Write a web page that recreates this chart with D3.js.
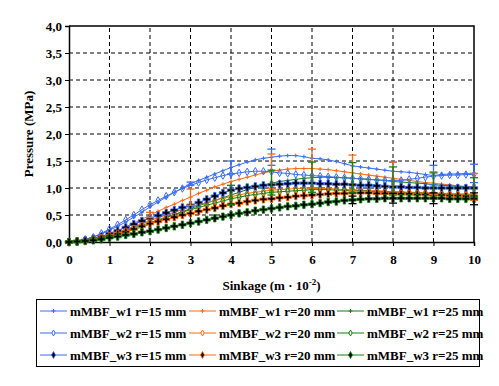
<!DOCTYPE html>
<html>
<head>
<meta charset="utf-8">
<script src="https://cdn.jsdelivr.net/npm/d3@7"></script>
<style>
  body { margin: 0; background: #fff; }
  svg { display: block; font-family: "Liberation Serif", "Times New Roman", serif; font-weight: bold; }
</style>
</head>
<body>
<svg></svg>
<script>
const dimensions = { width: 499, height: 386 };
const margin = { left: 69, right: 25, top: 26, bottom: 144 };

// sinkage steps, 0 .. 10 every 0.2
const sinkage = d3.range(51).map(i => +(i * 0.2).toFixed(1));
const xTicks = [0, 1, 2, 3, 4, 5, 6, 7, 8, 9, 10];
const yTicks = [0, 0.5, 1, 1.5, 2, 2.5, 3, 3.5, 4];

// pressure (MPa)
const w1r15 = [0,0.02,0.05,0.09,0.15,0.22, 0.29,0.37,0.46,0.55,0.65, 0.74,0.83,0.92,1.0,1.08, 1.14,1.2,1.26,1.32,1.38,
  1.43,1.48,1.52,1.55,1.57, 1.59,1.6,1.6,1.58,1.55, 1.54,1.52,1.49,1.45,1.41, 1.39,1.37,1.35,1.33,1.31,
  1.3,1.29,1.27,1.25,1.23, 1.25,1.26,1.26,1.27,1.27];
const w1r20 = [0,0.01,0.03,0.06,0.1,0.15, 0.21,0.28,0.35,0.42,0.5, 0.57,0.64,0.7,0.77,0.83, 0.9,0.96,1.02,1.07,1.12,
  1.16,1.2,1.24,1.28,1.31, 1.33,1.35,1.36,1.36,1.36, 1.35,1.34,1.32,1.3,1.28, 1.26,1.24,1.22,1.2,1.18,
  1.16,1.14,1.12,1.1,1.09, 1.07,1.06,1.04,1.03,1.02];
const w1r25 = [0,0.01,0.02,0.04,0.07,0.1, 0.14,0.18,0.23,0.28,0.33, 0.39,0.45,0.51,0.56,0.62, 0.67,0.72,0.77,0.82,0.87,
  0.92,0.97,1.01,1.05,1.09, 1.12,1.14,1.16,1.18,1.19, 1.2,1.2,1.19,1.19,1.18, 1.17,1.16,1.15,1.14,1.12,
  1.11,1.1,1.09,1.08,1.06, 1.05,1.04,1.03,1.02,1.01];
const w2r15 = [0,0.02,0.05,0.09,0.16,0.24, 0.32,0.41,0.5,0.6,0.69, 0.77,0.85,0.92,0.99,1.05, 1.1,1.15,1.19,1.23,1.26,
  1.28,1.3,1.31,1.31,1.3, 1.28,1.27,1.25,1.24,1.23, 1.22,1.21,1.2,1.19,1.18, 1.17,1.16,1.15,1.14,1.13,
  1.14,1.16,1.18,1.2,1.22, 1.23,1.24,1.24,1.25,1.25];
const w2r20 = [0,0.01,0.02,0.04,0.08,0.12, 0.17,0.22,0.28,0.34,0.4, 0.45,0.5,0.55,0.6,0.65, 0.69,0.73,0.77,0.81,0.84,
  0.87,0.9,0.92,0.94,0.96, 0.97,0.98,0.99,1.0,1.0, 0.99,0.99,0.98,0.97,0.97, 0.96,0.95,0.95,0.94,0.93,
  0.93,0.92,0.92,0.91,0.91, 0.9,0.9,0.89,0.89,0.88];
const w2r25 = [0,0.01,0.02,0.04,0.07,0.11, 0.16,0.21,0.26,0.31,0.36, 0.41,0.46,0.51,0.55,0.6, 0.64,0.68,0.72,0.76,0.8,
  0.83,0.86,0.88,0.9,0.92, 0.93,0.94,0.95,0.96,0.97, 0.97,0.97,0.96,0.96,0.95, 0.95,0.94,0.93,0.93,0.92,
  0.92,0.91,0.91,0.9,0.89, 0.89,0.88,0.88,0.87,0.87];
const w3r15 = [0,0.01,0.03,0.06,0.1,0.16, 0.21,0.27,0.33,0.39,0.44, 0.49,0.54,0.59,0.64,0.68, 0.73,0.79,0.85,0.91,0.96,
  0.99,1.01,1.03,1.05,1.06, 1.07,1.08,1.09,1.09,1.09, 1.08,1.08,1.07,1.07,1.06, 1.05,1.05,1.04,1.03,1.02,
  1.02,1.01,1.01,1.0,1.0, 1.0,1.0,1.0,1.0,1.0];
const w3r20 = [0,0.01,0.02,0.04,0.07,0.11, 0.15,0.19,0.24,0.29,0.34, 0.38,0.42,0.46,0.5,0.53, 0.57,0.6,0.63,0.67,0.7,
  0.72,0.75,0.77,0.79,0.8, 0.82,0.83,0.85,0.86,0.87, 0.88,0.89,0.9,0.9,0.91, 0.91,0.91,0.9,0.9,0.9,
  0.89,0.89,0.88,0.88,0.87, 0.87,0.86,0.86,0.85,0.85];
const w3r25 = [0,0.01,0.02,0.03,0.05,0.08, 0.1,0.13,0.15,0.18,0.2, 0.23,0.26,0.29,0.32,0.35, 0.38,0.41,0.44,0.47,0.5,
  0.53,0.55,0.58,0.6,0.62, 0.64,0.66,0.67,0.69,0.7, 0.72,0.74,0.75,0.77,0.78, 0.79,0.8,0.8,0.81,0.81,
  0.81,0.81,0.81,0.81,0.81, 0.81,0.8,0.8,0.8,0.8];

// error bars at whole sinkage values: [sinkage, centre, half range]
const errW1r15 = [[3,1.08,0.03],[4,1.38,0.12],[5,1.57,0.15],[8,1.31,0.17],[9,1.24,0.18],[10,1.27,0.17]];
const errW1r20 = [[2,0.5,0.05],[3,0.83,0.15],[5,1.31,0.32],[6,1.36,0.36],[7,1.28,0.33],[8,1.18,0.3],[9,1.09,0.21],[10,1.02,0.25]];
const errW1r25 = [[4,0.87,0.18],[5,1.1,0.23],[6,1.2,0.28],[7,1.19,0.28],[8,1.13,0.26],[9,1.07,0.21],[10,1.02,0.17]];
const errW3r25 = [[7,0.78,0.07],[8,0.81,0.09],[9,0.81,0.1],[10,0.8,0.11]];

const blue = '#3a6cf4', orange = '#ff6a10', green = '#118011';

const series = [
  { name: 'mMBF_w1 r=15 mm', values: w1r15, color: blue, marker: 'tick' },
  { name: 'mMBF_w1 r=20 mm', values: w1r20, color: orange, marker: 'tick' },
  { name: 'mMBF_w1 r=25 mm', values: w1r25, color: green, marker: 'tick' },
  { name: 'mMBF_w2 r=15 mm', values: w2r15, color: blue, marker: 'open' },
  { name: 'mMBF_w2 r=20 mm', values: w2r20, color: orange, marker: 'open' },
  { name: 'mMBF_w2 r=25 mm', values: w2r25, color: green, marker: 'open' },
  { name: 'mMBF_w3 r=15 mm', values: w3r15, color: blue, marker: 'solid' },
  { name: 'mMBF_w3 r=20 mm', values: w3r20, color: orange, marker: 'solid' },
  { name: 'mMBF_w3 r=25 mm', values: w3r25, color: green, marker: 'solid' },
];

const errorSets = [
  { data: errW1r15, color: blue },
  { data: errW1r20, color: orange },
  { data: errW1r25, color: green },
  { data: errW3r25, color: '#000' },
];

const svg = d3.select('svg').attr('width', dimensions.width).attr('height', dimensions.height);

const x = d3.scaleLinear().domain([0, 10]).range([margin.left, dimensions.width - margin.right]);
const y = d3.scaleLinear().domain([0, 4]).range([dimensions.height - margin.bottom, margin.top]);

// dashed grid
svg.append('g').selectAll('line').data(xTicks.slice(1, -1)).join('line')
  .attr('x1', d => x(d)).attr('x2', d => x(d)).attr('y1', y(0)).attr('y2', y(4))
  .attr('stroke', '#000').attr('stroke-dasharray', '4,3');
svg.append('g').selectAll('line').data(yTicks.slice(1, -1)).join('line')
  .attr('x1', x(0)).attr('x2', x(10)).attr('y1', d => y(d)).attr('y2', d => y(d))
  .attr('stroke', '#000').attr('stroke-dasharray', '4,3');

// axes
const fmt = d3.format('.1f');
const yAxis = svg.append('g').attr('transform', `translate(${x(0)},0)`)
  .call(d3.axisLeft(y).tickValues(yTicks).tickSize(4).tickPadding(3).tickFormat(d => fmt(d).replace('.', ',')));
const xAxis = svg.append('g').attr('transform', `translate(0,${y(0)})`)
  .call(d3.axisBottom(x).tickValues(xTicks).tickSize(4).tickPadding(9).tickFormat(d3.format('d')));
[xAxis, yAxis].forEach(a => {
  a.selectAll('text').attr('font-family', '"Liberation Serif", serif').attr('font-weight', 'bold')
    .attr('font-size', 13).attr('fill', '#000');
  a.select('.domain').attr('stroke-width', 1.5);
});

// plot frame top/right
svg.append('path')
  .attr('d', `M${x(0)},${y(4)}H${x(10)}V${y(0)}`)
  .attr('fill', 'none').attr('stroke', '#000').attr('stroke-width', 1.5);

// axis titles
svg.append('text').attr('transform', `translate(33,${(y(0) + y(4)) / 2}) rotate(-90)`)
  .attr('text-anchor', 'middle').attr('font-size', 13).text('Pressure (MPa)');
const xt = svg.append('text').attr('x', (x(0) + x(10)) / 2).attr('y', 290)
  .attr('text-anchor', 'middle').attr('font-size', 13);
xt.append('tspan').text('Sinkage (m · 10');
xt.append('tspan').attr('dy', -5).attr('font-size', 9).text('-2');
xt.append('tspan').attr('dy', 5).text(')');

// markers
const tickPath = 'M-2,0H2M0,-2V2';
const openDiamond = d3.symbol().type(d3.symbolDiamond).size(16)();
const legendOpen = d3.symbol().type(d3.symbolDiamond).size(10)();
const solidCross = d3.symbol().type(d3.symbolCross).size(30)();
const legendSolid = d3.symbol().type(d3.symbolDiamond).size(14)();

function drawMarker(g, s, pts, legend) {
  if (s.marker === 'tick') {
    g.selectAll('path.m').data(pts).join('path').attr('class', 'm')
      .attr('transform', d => `translate(${d[0]},${d[1]})`)
      .attr('d', tickPath).attr('stroke', s.color).attr('stroke-width', 1).attr('fill', 'none');
  } else if (s.marker === 'open') {
    g.selectAll('path.m').data(pts).join('path').attr('class', 'm')
      .attr('transform', d => `translate(${d[0]},${d[1]})`)
      .attr('d', legend ? legendOpen : openDiamond).attr('stroke', s.color).attr('stroke-width', 1)
      .attr('fill', legend ? '#fff' : 'none');
  } else {
    g.selectAll('path.m').data(pts).join('path').attr('class', 'm')
      .attr('transform', d => `translate(${d[0]},${d[1]})`)
      .attr('d', legend ? legendSolid : solidCross).attr('fill', '#000')
      .attr('stroke', s.color).attr('stroke-width', 0.8);
  }
}

const line = d3.line().x((d, i) => x(sinkage[i])).y(d => y(d));
const plot = svg.append('g');
series.forEach(s => {
  const g = plot.append('g');
  g.append('path').attr('d', line(s.values)).attr('fill', 'none').attr('stroke', s.color).attr('stroke-width', 1);
  drawMarker(g, s, s.values.map((v, i) => [x(sinkage[i]), y(v)]), false);
});

// error bars
errorSets.forEach(e => {
  const g = svg.append('g').attr('stroke', e.color).attr('stroke-width', 1.3);
  e.data.forEach(([sx, c, h]) => {
    g.append('line').attr('x1', x(sx)).attr('x2', x(sx)).attr('y1', y(c - h)).attr('y2', y(c + h));
    [c - h, c + h].forEach(v => g.append('line')
      .attr('x1', x(sx) - 4).attr('x2', x(sx) + 4).attr('y1', y(v)).attr('y2', y(v)));
  });
});

// legend
const legend = svg.append('g');
legend.append('rect').attr('x', 36.5).attr('y', 299.5).attr('width', 443).attr('height', 67)
  .attr('fill', '#fff').attr('stroke', '#000').attr('stroke-width', 1);
const colX = [40, 189, 337];
const rowY = [311, 333, 355];
series.forEach((s, i) => {
  const cx = colX[i % 3], cy = rowY[Math.floor(i / 3)];
  const g = legend.append('g');
  g.append('line').attr('x1', cx).attr('x2', cx + 27).attr('y1', cy).attr('y2', cy)
    .attr('stroke', s.color).attr('stroke-width', 1);
  drawMarker(g, s, [[cx + 13.5, cy]], true);
  g.append('text').attr('x', cx + 30).attr('y', cy + 4.5).attr('font-size', 13).text(s.name);
});
</script>
</body>
</html>
